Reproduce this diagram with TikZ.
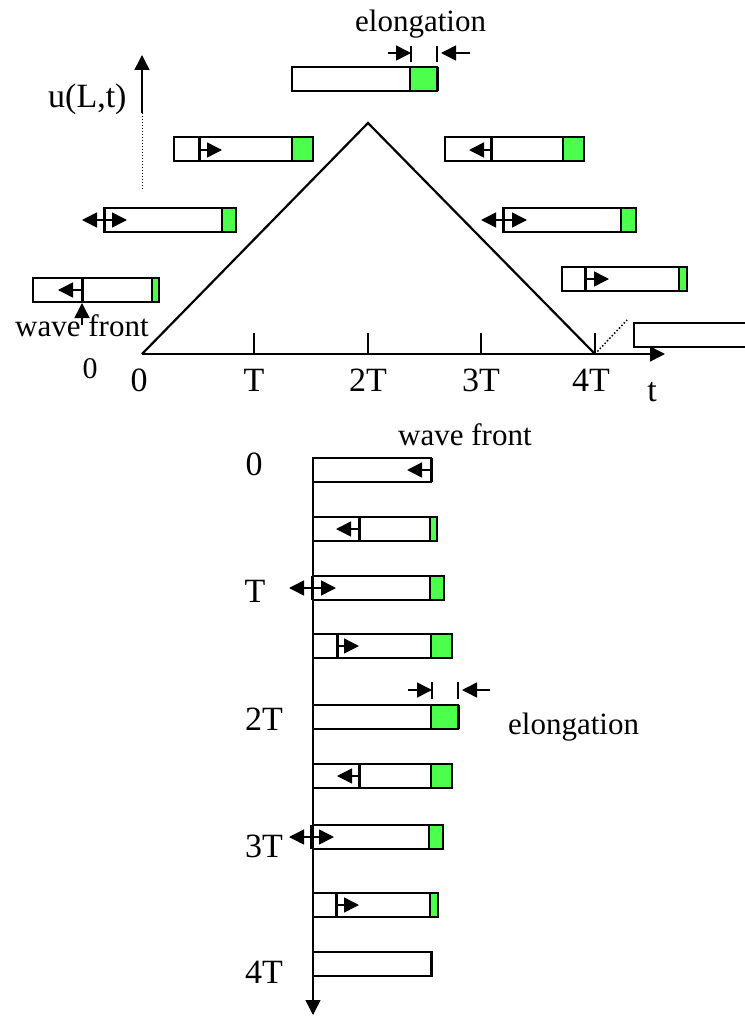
\documentclass[tikz,border=0pt]{standalone}
\usepackage{fontspec}
\setmainfont{Liberation Serif}
\usetikzlibrary{arrows.meta}
\definecolor{grn}{RGB}{76,255,76}
\newcommand\wbar[4]{%
  \draw[barline] (#1,#3) rectangle (#2,#3+24);
  \draw[greenbox] (#4,#3) rectangle (#2,#3+24);}
\newcommand\pbar[3]{\draw[barline] (#1,#3) rectangle (#2,#3+24);}
\newcommand\frontl[2]{\draw[frontline] (#1,#2) -- (#1,#2+24);}
\begin{document}
\begin{tikzpicture}[x=1pt,y=-1pt,
  barline/.style={draw=black, line width=1.4pt, fill=white},
  greenbox/.style={draw=black, line width=1.2pt, fill=grn},
  frontline/.style={line width=3pt},
  axisline/.style={line width=1.5pt},
  tipped/.style={line width=1.5pt, -{Triangle[length=15pt,width=15pt]}},
  dbl/.style={line width=1.5pt, {Triangle[length=15pt,width=15pt]}-{Triangle[length=15pt,width=15pt]}},
  lbl/.style={font=\fontsize{34}{40}\selectfont, inner sep=0pt, anchor=base},
  word/.style={font=\fontsize{31}{36}\selectfont, inner sep=0pt, anchor=base west}]
\useasboundingbox (0,0) rectangle (744,1016);

% ---------- upper graph ----------
\coordinate (O) at (142,354);
\coordinate (apex) at (368,123);
\coordinate (F4) at (595,354);
\coordinate (tend) at (665,354);
\coordinate (utop) at (142,55);
\coordinate (umid) at (142,113);
\coordinate (ubot) at (142,191);
\coordinate (dotend) at (627,320);

\draw[tipped] (O) -- (tend);
\draw[tipped] (umid) -- (utop);
\draw[line width=1pt, dotted] (umid) -- (ubot);
\draw[line width=2.2pt, line join=miter] (O) -- (apex) -- (F4);
\foreach \xx in {254,368,481,595} \draw[line width=1.2pt] (\xx,333) -- (\xx,354);
\draw[line width=1.5pt, dotted] (F4) -- (dotend);

\node[lbl] (l0) at (139,391) {0};
\node[lbl] (lT) at (254,391) {T};
\node[lbl] (l2T) at (368,391) {2T};
\node[lbl] (l3T) at (481,391) {3T};
\node[lbl] (l4T) at (591,391) {4T};
\node[lbl] (lt) at (652,401) {t};
\node[lbl, font=\fontsize{30}{36}\selectfont] (l0b) at (90,378) {0};
\node[lbl, anchor=base west] (u) at (48,108) {u(L,t)};
\node[word] (ela) at (355,32) {elongation};
\node[word] (wfa) at (15,336) {wave front};

% bar A (T/2, left)
\wbar{33}{159}{278}{152}
\frontl{82}{278}
\draw[tipped] (82,290) -- (58,290);
\draw[tipped] (82,325) -- (82,303);
% bar B (T)
\wbar{104}{236}{208}{222}
\frontl{104}{208}
\draw[dbl] (82,220) -- (127,220);
% bar C (3T/2)
\wbar{174}{313}{137}{292}
\frontl{199}{137}
\draw[tipped] (199,150) -- (222,150);
% bar D (2T)
\wbar{292}{437}{67}{410}
\frontl{437}{67}
\draw[tipped] (388,53) -- (411,53);
\draw[line width=1.2pt] (411,46) -- (411,62);
\draw[line width=1.2pt] (437,46) -- (437,62);
\draw[tipped] (470,53) -- (441,53);
% bar E (5T/2)
\wbar{445}{584}{137}{563}
\frontl{491}{137}
\draw[tipped] (491,150) -- (469,150);
% bar F (3T)
\wbar{503}{636}{208}{621}
\frontl{503}{208}
\draw[dbl] (481,220) -- (527,220);
% bar G (7T/2)
\wbar{562}{687}{267}{679}
\frontl{585}{267}
\draw[tipped] (585,279) -- (609,279);
% bar H (4T)
\draw[line width=1.4pt] (746,323) -- (634,323) -- (634,347) -- (746,347);

% ---------- lower graph ----------
\coordinate (vtop) at (313,458);
\coordinate (vbot) at (313,1015);
\draw[tipped] (vtop) -- (vbot);

\node[lbl] (b0) at (254,475) {0};
\node[lbl] (bT) at (255,602) {T};
\node[lbl] (b2T) at (264,730) {2T};
\node[lbl] (b3T) at (264,857) {3T};
\node[lbl] (b4T) at (264,983) {4T};
\node[word] (wfb) at (398,445) {wave front};
\node[word] (elb) at (508,734) {elongation};

% 1
\pbar{313}{431}{458}
\frontl{431}{458}
\draw[tipped] (431,470) -- (407,470);
% 2
\wbar{313}{437}{517}{430}
\frontl{359}{517}
\draw[tipped] (359,529) -- (336,529);
% 3
\wbar{313}{444}{576}{430}
\frontl{312}{576}
\draw[dbl] (289,588) -- (336,588);
% 4
\wbar{313}{452}{634}{431}
\frontl{337}{634}
\draw[tipped] (337,646) -- (359,646);
% 5
\wbar{313}{458}{705}{431}
\frontl{458}{705}
\draw[tipped] (408,690) -- (432,690);
\draw[line width=1.2pt] (432,682) -- (432,699);
\draw[line width=1.2pt] (458,682) -- (458,699);
\draw[tipped] (490,690) -- (462,690);
% 6
\wbar{313}{452}{764}{431}
\frontl{359}{764}
\draw[tipped] (359,776) -- (337,776);
% 7
\wbar{313}{443}{825}{429}
\frontl{311}{825}
\draw[dbl] (289,837) -- (334,837);
% 8
\wbar{313}{438}{893}{430}
\frontl{336}{893}
\draw[tipped] (336,905) -- (359,905);
% 9
\pbar{313}{432}{952}
\frontl{431}{952}
\end{tikzpicture}
\end{document}
